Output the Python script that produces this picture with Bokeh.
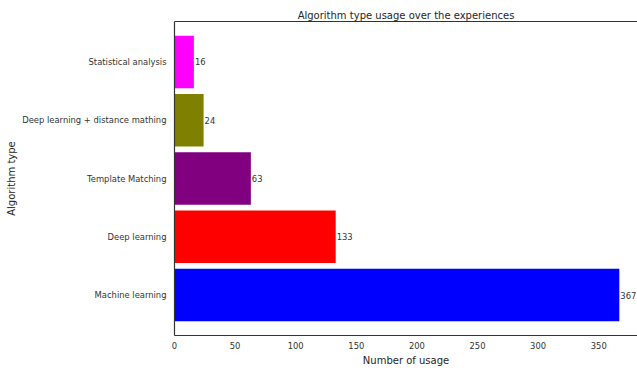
from bokeh.plotting import figure
from bokeh.models import Range1d, FixedTicker, LinearAxis, ColumnDataSource
from bokeh.core.properties import value
from bokeh.embed import file_html
from bokeh.resources import INLINE

categories = ["Machine learning", "Deep learning", "Template Matching",
              "Deep learning + distance mathing", "Statistical analysis"]
counts = [367, 133, 63, 24, 16]
colors = ["#0000ff", "#ff0000", "#800080", "#808000", "#ff00ff"]
x_ticks = [0, 50, 100, 150, 200, 250, 300, 350]

FONT = "DejaVu Sans"
pos = list(range(len(categories)))
src = ColumnDataSource(dict(y=pos, v=counts, c=colors, lab=[str(c) for c in counts]))

p = figure(width=637, height=368, output_backend="svg", toolbar_location=None,
           x_range=Range1d(0, 382), y_range=Range1d(-0.695, 4.695),
           min_border_left=174, min_border_right=0, min_border_top=21, min_border_bottom=31)
p.title.text = "Algorithm type usage over the experiences"
p.title.align = "center"
p.title.text_font = FONT
p.title.text_font_size = "10px"
p.title.text_font_style = "normal"
p.title.text_color = "#262626"
p.title.standoff = 2
p.outline_line_color = None
p.background_fill_color = "white"
p.border_fill_color = "white"
p.xgrid.visible = False
p.ygrid.visible = False

p.hbar(y="y", right="v", left=0, height=0.9, fill_color="c", line_color=None, source=src)
p.text(x="v", y="y", text="lab", source=src, text_font=value(FONT), text_font_size="8.4px",
       text_color="#333333", text_align="left", text_baseline="middle", x_offset=1)

for ax in (p.xaxis[0], p.yaxis[0]):
    ax.major_tick_line_color = None
    ax.minor_tick_line_color = None
    ax.major_tick_out = 0
    ax.major_tick_in = 0
    ax.minor_tick_out = 0
    ax.minor_tick_in = 0
    ax.axis_line_color = "#333333"
    ax.axis_line_width = 1.2
    ax.major_label_text_font = FONT
    ax.major_label_text_font_size = "8.4px"
    ax.major_label_text_color = "#333333"
    ax.axis_label_text_font = FONT
    ax.axis_label_text_font_size = "10px"
    ax.axis_label_text_font_style = "normal"
    ax.axis_label_text_color = "#262626"

p.xaxis.ticker = FixedTicker(ticks=x_ticks)
p.xaxis.axis_label = "Number of usage"
p.xaxis.major_label_standoff = 6
p.xaxis.axis_label_standoff = 3
p.yaxis.ticker = FixedTicker(ticks=pos)
p.yaxis.major_label_overrides = {i: c for i, c in enumerate(categories)}
p.yaxis.axis_label = "Algorithm type"
p.yaxis.major_label_standoff = 8
p.yaxis.axis_label_standoff = 2

top = LinearAxis(major_tick_line_color=None, minor_tick_line_color=None,
                 major_tick_out=0, major_tick_in=0, minor_tick_out=0, minor_tick_in=0,
                 major_label_text_font_size="0px", major_label_standoff=0,
                 axis_line_color="#333333", axis_line_width=1.2,
                 ticker=FixedTicker(ticks=[]))
p.add_layout(top, "above")

open("out.html", "w").write(file_html(p, INLINE))
